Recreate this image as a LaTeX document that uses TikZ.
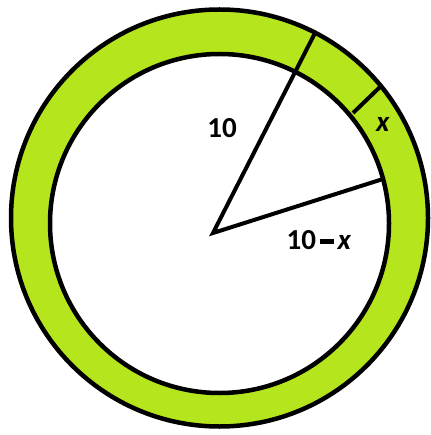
\documentclass[tikz,border=0pt]{standalone}
\usepackage{fontspec}
\setmainfont{Carlito}
\definecolor{lime}{RGB}{181,230,29}
\tikzset{
  ring/.style={line width=4.5pt, draw=black},
  spoke/.style={line width=4pt, draw=black, line cap=round, line join=miter},
  lbl/.style={font=\bfseries\fontsize{29}{29}\selectfont, inner sep=0pt}
}
\begin{document}
\begin{tikzpicture}[x=1pt,y=-1pt]
\useasboundingbox (0,0) rectangle (430,435);
\coordinate (oc) at (219.5,218);
\coordinate (ic) at (219.5,223.5);
\coordinate (v) at (213,233);
\coordinate (p1) at (315,33);
\coordinate (p2) at (383,179);
\coordinate (m1) at (380,87);
\coordinate (m2) at (353,113);
\fill[lime, ring] (oc) circle [radius=208.5];
\fill[white, ring] (ic) circle [radius=169.5];
\draw[spoke] (p1) -- (v) -- (p2);
\draw[line width=4pt] (m1) -- (m2);
\node[lbl] (a) at (222,128) {10};
\node[lbl] (b) at (319,240) {10\hspace{0.12em}\rule[0.2em]{0.5em}{0.16em}\hspace{0.12em}\textit{x}};
\node[lbl] (c) at (383,124) {\textit{x}};
\end{tikzpicture}
\end{document}
